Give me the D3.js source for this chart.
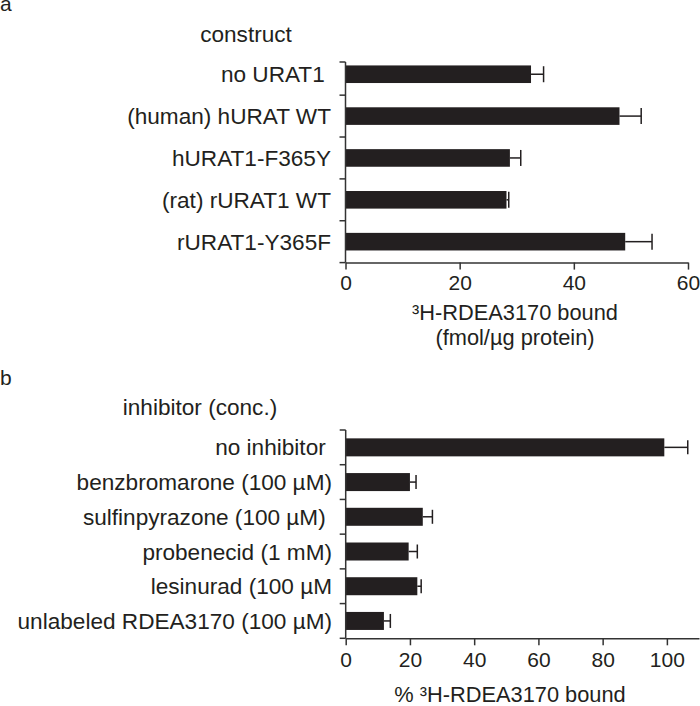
<!DOCTYPE html>
<html>
<head>
  <meta charset="utf-8">
  <title>RDEA3170 binding</title>
  <script src="https://cdn.jsdelivr.net/npm/d3@7"></script>
  <style>
    body { margin: 0; background: #fff; }
    text { font-family: "Liberation Sans", Arial, sans-serif; fill: #231f20; }
  </style>
</head>
<body>
  <script>
    // panel a data
    const constructs = ["no URAT1\u00a0", "(human) hURAT WT", "hURAT1-F365Y", "(rat) rURAT1 WT", "rURAT1-Y365F"];
    const boundA = [32.5, 48, 28.8, 28.2, 49];
    const errA = [2.2, 3.8, 1.9, 0.4, 4.7];
    const ticksA = [0, 20, 40, 60];

    // panel b data
    const inhibitors = ["no inhibitor\u00a0", "benzbromarone (100 µM)", "sulfinpyrazone (100 µM)\u00a0",
      "probenecid (1 mM)", "lesinurad (100 µM", "unlabeled RDEA3170 (100 µM)"];
    const boundB = [99.2, 20, 24, 19.6, 22.3, 11.9];
    const errB = [7.3, 1.9, 3, 2.7, 1.2, 2];
    const ticksB = [0, 20, 40, 60, 80, 100];

    const w = 700, h = 706;
    const ink = "#231f20";

    const svg = d3.select("body").append("svg")
      .attr("width", w)
      .attr("height", h);

    function panel(cfg) {
      const g = svg.append("g");
      const x = d3.scaleLinear().domain(cfg.domain).range([cfg.x0, cfg.x1]);
      const y = d3.scaleBand().domain(cfg.cats).range([cfg.yTop, cfg.yBot]);
      const bh = cfg.barH;

      // bars
      g.selectAll("rect.bar")
        .data(cfg.cats)
        .enter()
        .append("rect")
        .attr("x", x(0))
        .attr("y", d => y(d) + (y.bandwidth() - bh) / 2)
        .attr("width", (d, i) => x(cfg.vals[i]) - x(0))
        .attr("height", bh)
        .attr("fill", ink);

      // error bars
      const eb = g.selectAll("g.err")
        .data(cfg.cats)
        .enter()
        .append("g")
        .attr("stroke", ink)
        .attr("stroke-width", 1.5);
      eb.append("line")
        .attr("x1", (d, i) => x(cfg.vals[i]))
        .attr("x2", (d, i) => x(cfg.vals[i] + cfg.errs[i]))
        .attr("y1", d => y(d) + y.bandwidth() / 2)
        .attr("y2", d => y(d) + y.bandwidth() / 2);
      eb.append("line")
        .attr("x1", (d, i) => x(cfg.vals[i] + cfg.errs[i]))
        .attr("x2", (d, i) => x(cfg.vals[i] + cfg.errs[i]))
        .attr("y1", d => y(d) + y.bandwidth() / 2 - cfg.capH / 2)
        .attr("y2", d => y(d) + y.bandwidth() / 2 + cfg.capH / 2);

      // y axis line and ticks between bars
      g.append("line")
        .attr("x1", x(0)).attr("x2", x(0))
        .attr("y1", cfg.axisTop).attr("y2", cfg.yBot)
        .attr("stroke", "#333").attr("stroke-width", 1.5);
      const tickYs = [cfg.axisTop].concat(cfg.cats.map(d => y(d) + y.bandwidth()));
      g.selectAll("line.yt")
        .data(tickYs)
        .enter()
        .append("line")
        .attr("x1", x(0) - 6).attr("x2", x(0))
        .attr("y1", d => d).attr("y2", d => d)
        .attr("stroke", "#333").attr("stroke-width", 1.5);

      // category labels
      g.selectAll("text.cat")
        .data(cfg.cats)
        .enter()
        .append("text")
        .attr("x", cfg.labelX)
        .attr("y", d => y(d) + y.bandwidth() / 2 + 8)
        .attr("text-anchor", "end")
        .attr("font-size", 22.6)
        .style("white-space", "pre")
        .text(d => d);

      // x axis
      const ax = g.append("g")
        .attr("transform", `translate(0,${cfg.yBot})`)
        .call(d3.axisBottom(x).tickValues(cfg.ticks).tickSize(7).tickSizeOuter(0));
      ax.select(".domain").attr("stroke", "#333").attr("stroke-width", 1.5);
      ax.selectAll(".tick line").attr("stroke", "#333").attr("stroke-width", 1.5);
      ax.selectAll(".tick text")
        .attr("y", cfg.tickTextY)
        .attr("font-size", 21)
        .attr("font-family", "Liberation Sans, Arial, sans-serif")
        .attr("fill", ink);

      // titles
      g.append("text")
        .attr("x", 0).attr("y", cfg.letterY)
        .attr("font-size", 21)
        .text(cfg.letter);
      g.append("text")
        .attr("x", cfg.headX).attr("y", cfg.headY)
        .attr("text-anchor", "middle")
        .attr("font-size", 22.6)
        .text(cfg.head);
      cfg.xTitle.forEach((t, i) => {
        g.append("text")
          .attr("x", cfg.xTitleX).attr("y", cfg.xTitleY + i * 25)
          .attr("text-anchor", "middle")
          .attr("font-size", 21.8)
          .text(t);
      });
    }

    panel({
      cats: constructs, vals: boundA, errs: errA, ticks: ticksA,
      domain: [0, 60], x0: 345.5, x1: 688,
      yTop: 53.3, yBot: 262.6, axisTop: 62, barH: 17.6, capH: 16,
      labelX: 331, tickTextY: 12,
      letter: "a", letterY: 11,
      head: "construct", headX: 246, headY: 42,
      xTitle: ["³H-RDEA3170 bound", "(fmol/µg protein)"], xTitleX: 515, xTitleY: 320
    });

    panel({
      cats: inhibitors, vals: boundB, errs: errB, ticks: ticksB,
      domain: [0, 110], x0: 345.7, x1: 699,
      yTop: 430, yBot: 638.3, axisTop: 430, barH: 18, capH: 14,
      labelX: 332, tickTextY: 14,
      letter: "b", letterY: 385,
      head: "inhibitor (conc.)", headX: 200, headY: 415,
      xTitle: ["% ³H-RDEA3170 bound"], xTitleX: 510, xTitleY: 702
    });
  </script>
</body>
</html>
